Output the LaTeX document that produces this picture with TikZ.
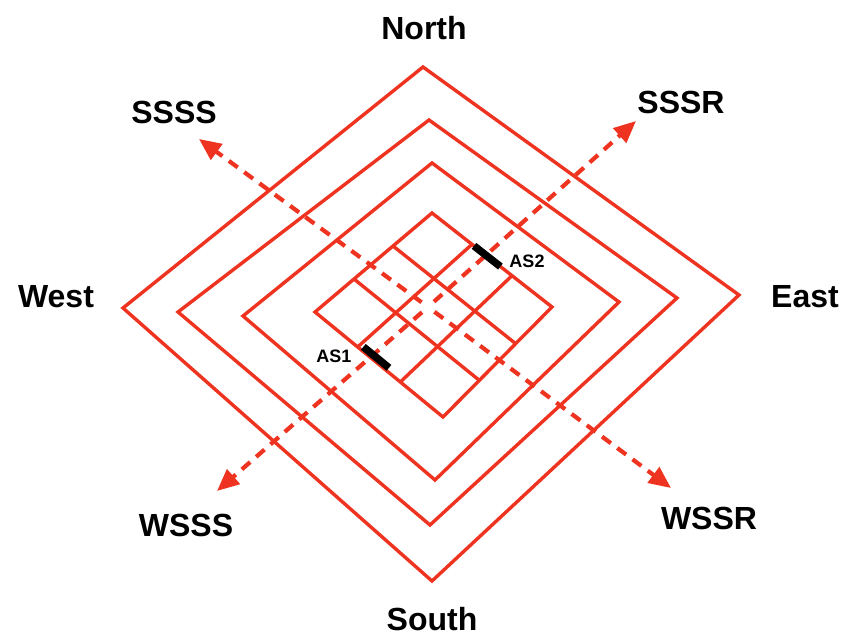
\documentclass[tikz,border=0pt]{standalone}
\usepackage{fontspec}
\setmainfont{Liberation Sans}
\usetikzlibrary{arrows.meta,calc}
\definecolor{wire}{RGB}{238,52,32}
\begin{document}
\begin{tikzpicture}[x=1pt,y=-1pt,
  ring/.style={draw=wire,line width=3.4pt,line join=miter},
  gridline/.style={draw=wire,line width=3.4pt},
  axis/.style={draw=wire,line width=4.2pt,dash pattern=on 11pt off 8pt,dash phase=11pt,
    -{Triangle[length=22pt,width=19pt]}},
  compass/.style={font=\fontsize{32}{36}\selectfont\bfseries,text=black,inner sep=0pt},
  aslabel/.style={font=\fontsize{18}{20}\selectfont\bfseries,text=black,inner sep=0pt},
  asbar/.style={draw=black,line width=7.5pt}]
\useasboundingbox (0,0) rectangle (843,636);

% corners of the four nested rings (outer to inner)
\coordinate (oT) at (423,67);  \coordinate (oR) at (739,295);
\coordinate (oB) at (432,581); \coordinate (oL) at (123,308);
\coordinate (sT) at (429,120); \coordinate (sR) at (677,298);
\coordinate (sB) at (430,525); \coordinate (sL) at (178,312);
\coordinate (tT) at (432,163); \coordinate (tR) at (619,302);
\coordinate (tB) at (435,480); \coordinate (tL) at (243,316);
\coordinate (iT) at (432,213); \coordinate (iR) at (552,307);
\coordinate (iB) at (443,417); \coordinate (iL) at (315,312);

% rings
\draw[ring] (oT) -- (oR) -- (oB) -- (oL) -- cycle;
\draw[ring] (sT) -- (sR) -- (sB) -- (sL) -- cycle;
\draw[ring] (tT) -- (tR) -- (tB) -- (tL) -- cycle;
\draw[ring] (iT) -- (iR) -- (iB) -- (iL) -- cycle;

% 3x3 grid inside the innermost ring
\foreach \f in {0.3333,0.6667} {
  \draw[gridline] ($(iL)!\f!(iT)$) -- ($(iB)!\f!(iR)$);
  \draw[gridline] ($(iT)!\f!(iR)$) -- ($(iL)!\f!(iB)$);
}

% diagonal axes from the centre
\coordinate (C) at (428,307);
\coordinate (pSSSS) at (199,139);
\coordinate (pSSSR) at (636,121);
\coordinate (pWSSS) at (217,491);
\coordinate (pWSSR) at (671,488);
\draw[axis] (C) -- (pSSSS);
\draw[axis] (C) -- (pSSSR);
\draw[axis] (C) -- (pWSSS);
\draw[axis] (C) -- (pWSSR);

% AS markers on the inner ring
\draw[asbar] ($(iL)!0.37!(iB) + (1,-4)$) -- ($(iL)!0.57!(iB) + (1,-4)$);
\draw[asbar] ($(iT)!0.35!(iR)$) -- ($(iT)!0.57!(iR)$);
\node[aslabel] (as1) at (334,356) {AS1};
\node[aslabel] (as2) at (527,261) {AS2};

% compass labels
\node[compass] (north) at (424,28)  {North};
\node[compass] (south) at (432,619) {South};
\node[compass] (west)  at (56,297)  {West};
\node[compass] (east)  at (805,297) {East};
\node[compass] (ssss)  at (174,112) {SSSS};
\node[compass] (sssr)  at (681,102) {SSSR};
\node[compass] (wsss)  at (186,525) {WSSS};
\node[compass] (wssr)  at (709,518) {WSSR};
\end{tikzpicture}
\end{document}
